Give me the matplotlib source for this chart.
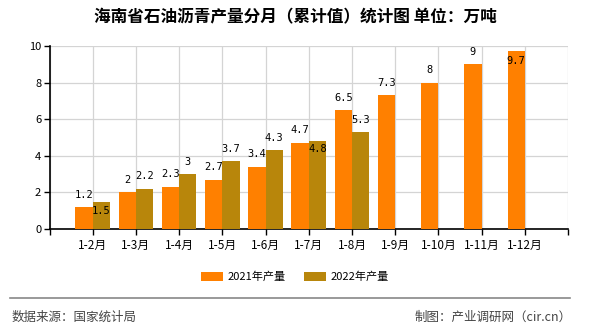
import matplotlib
matplotlib.use('Agg')
import matplotlib.pyplot as plt
import numpy as np

plt.rcParams['font.family'] = ['Noto Sans CJK SC', 'DejaVu Sans']

months = ['1-2月', '1-3月', '1-4月', '1-5月', '1-6月', '1-7月', '1-8月', '1-9月', '1-10月', '1-11月', '1-12月']
prod_2021 = [1.2, 2, 2.3, 2.7, 3.4, 4.7, 6.5, 7.3, 8, 9, 9.7]
prod_2022 = [1.5, 2.2, 3, 3.7, 4.3, 4.8, 5.3]

# label offsets in points (positive = above bar top)
off_2021 = [9, 9, 9, 9, 9, 9, 9, 9, 9, 9, -6.5]
off_2022 = [-6.5, 9, 9, 9, 9, -5.5, 9]

c21 = '#ff8000'
c22 = '#b8860b'

fig = plt.figure(figsize=(5.9, 3.3), dpi=100)
ax = fig.add_axes([49.5/590, 1-229/330, (568-49.5)/590, (229-46)/330])

x = np.arange(len(months))
w = 0.4
b1 = ax.bar(x[:len(prod_2021)] - w/2, prod_2021, w, color=c21, label='2021年产量', zorder=3)
b2 = ax.bar(x[:len(prod_2022)] + w/2, prod_2022, w, color=c22, label='2022年产量', zorder=3)

for rect, v, o in zip(b1, prod_2021, off_2021):
    ax.annotate(f'{v:g}', (rect.get_x() + rect.get_width()/2, v), xytext=(0, o),
                textcoords='offset points', ha='center', va='center',
                fontsize=7.5, family='DejaVu Sans Mono', zorder=5)
for rect, v, o in zip(b2, prod_2022, off_2022):
    ax.annotate(f'{v:g}', (rect.get_x() + rect.get_width()/2, v), xytext=(0, o),
                textcoords='offset points', ha='center', va='center',
                fontsize=7.5, family='DejaVu Sans Mono', zorder=5)

ax.set_xlim(-1, len(months))
ax.set_ylim(0, 10)
ax.set_yticks(range(0, 11, 2))
ax.set_xticks(range(-1, len(months) + 1))
ax.set_xticklabels([''] + months + [''])
ax.tick_params(axis='x', length=4, width=1, labelsize=8.5, pad=3)
ax.tick_params(axis='y', length=4, width=1, labelsize=8, pad=2)
ax.grid(True, color='#d4d4d4', linewidth=0.9, zorder=0)
for s in ['top', 'right']:
    ax.spines[s].set_visible(False)
ax.spines['left'].set_linewidth(1.2)
ax.spines['bottom'].set_linewidth(1.2)

fig.text(0.5, 1-17/330, '海南省石油沥青产量分月（累计值）统计图 单位：万吨',
         ha='center', va='center', fontsize=12, fontweight='bold')

fig.legend(loc='center', bbox_to_anchor=(0.5, 1-277/330), ncol=2, frameon=False,
           fontsize=8, handlelength=2.0, handleheight=0.8, columnspacing=1.6,
           handletextpad=0.4)

fig.add_artist(plt.Line2D([10/590, 570/590], [1-298/330, 1-298/330],
                          color='#888888', linewidth=1.2))
fig.text(12/590, 1-317/330, '数据来源：国家统计局', ha='left', va='center',
         fontsize=9, color='#444444')
fig.text(572/590, 1-317/330, '制图：产业调研网（cir.cn）', ha='right', va='center',
         fontsize=9, color='#444444')

fig.savefig('out.png', dpi=100)
